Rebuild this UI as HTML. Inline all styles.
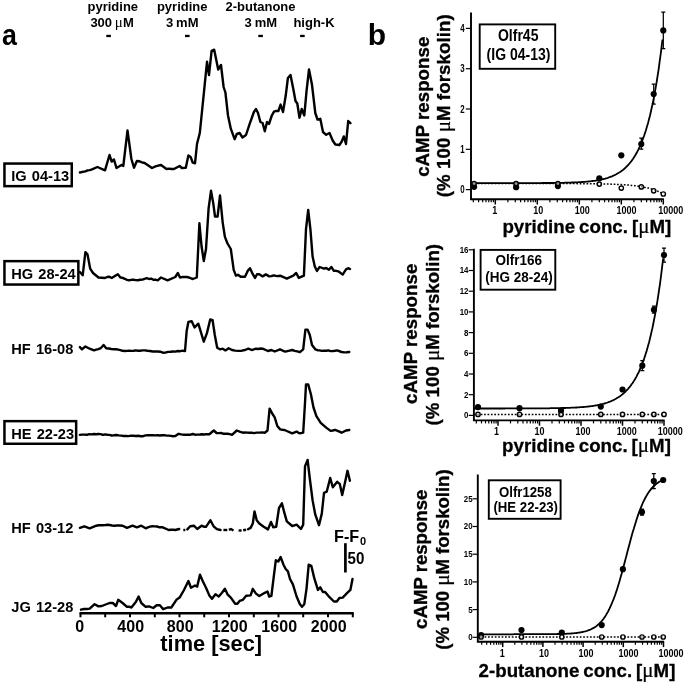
<!DOCTYPE html>
<html><head><meta charset="utf-8"><title>Figure</title>
<style>html,body{margin:0;padding:0;background:#fff}svg{display:block;filter:blur(0.4px)}text{font-family:"Liberation Sans",Arial,sans-serif;font-weight:bold;fill:#000}.mu{font-family:"Liberation Serif","DejaVu Serif",serif;font-weight:normal}</style></head><body>
<svg width="685" height="684" viewBox="0 0 685 684">
<rect width="685" height="684" fill="#fff"/>
<g id="panel-a">
<text transform="translate(1.9,45) scale(0.9,1)" font-size="29.8">a</text>
<text x="112.8" y="11" font-size="13" text-anchor="middle">pyridine</text>
<text x="90.4" y="27.4" font-size="13">300<tspan class="mu" font-size="15" dx="2.6">μ</tspan><tspan dx="0.3">M</tspan></text>
<text x="182.2" y="11" font-size="13" text-anchor="middle">pyridine</text>
<text x="182.2" y="27.4" font-size="13" text-anchor="middle" word-spacing="-0.6">3 mM</text>
<text x="260.5" y="11" font-size="13" text-anchor="middle">2-butanone</text>
<text x="260.8" y="27.4" font-size="13" text-anchor="middle" word-spacing="-0.6">3 mM</text>
<text x="314" y="27.4" font-size="13" text-anchor="middle">high-K</text>
<rect x="106.3" y="34.8" width="4.6" height="2.3" fill="#000"/>
<rect x="185.0" y="34.8" width="4.6" height="2.3" fill="#000"/>
<rect x="258.3" y="34.8" width="4.6" height="2.3" fill="#000"/>
<rect x="300.09999999999997" y="34.8" width="4.6" height="2.3" fill="#000"/>
<path d="M79.9,172.5 L82.7,171.8 L85.4,171.4 L87.6,170.4 L89.8,170.1 L92.0,169.3 L97.4,167.0 L105.0,170.3 L109.5,155.0 L111.7,161.6 L113.9,159.4 L116.5,168.0 L121.5,165.0 L123.3,166.0 L127.5,130.4 L131.4,159.0 L134.0,167.7 L136.9,161.0 L139.5,161.3 L142.0,162.4 L144.6,163.0 L152.0,168.0 L155.5,166.4 L158.2,165.6 L161.0,165.0 L166.5,169.0 L169.0,168.6 L171.5,169.0 L174.0,169.0 L179.6,166.0 L181.8,168.0 L185.8,167.7 L188.4,155.4 L190.6,157.0 L192.8,162.7 L195.0,163.3 L197.0,144.0 L199.8,133.0 L203.8,93.6 L207.0,61.8 L209.0,75.0 L211.6,50.8 L214.2,49.7 L218.2,69.5 L221.0,65.0 L223.6,87.0 L225.4,92.5 L228.0,115.5 L230.8,128.7 L234.6,139.2 L236.8,134.0 L239.6,133.0 L242.5,137.5 L246.0,135.0 L249.5,124.3 L253.9,112.0 L256.0,109.0 L258.0,113.0 L260.4,122.0 L262.6,123.0 L264.8,131.3 L267.0,122.0 L269.0,124.0 L271.8,115.5 L274.0,111.6 L276.2,110.9 L278.4,111.0 L280.6,104.6 L283.0,112.0 L285.7,95.8 L287.9,78.0 L290.5,75.0 L293.3,89.0 L295.5,101.0 L297.3,103.5 L299.5,117.7 L301.7,109.0 L304.3,115.5 L306.5,91.4 L309.0,69.5 L312.0,84.8 L315.3,113.0 L317.5,119.5 L320.3,118.8 L323.0,132.0 L326.2,134.8 L329.5,133.0 L332.8,140.7 L335.4,144.5 L339.4,145.0 L341.6,141.8 L343.8,136.4 L346.0,144.0 L348.2,121.0 L350.4,123.2" fill="none" stroke="#000" stroke-width="2.4" stroke-linejoin="round" stroke-linecap="round"/>
<path d="M79.9,272.0 L82.7,275.3 L85.4,252.2 L87.5,254.4 L90.2,268.7 L93.0,273.0 L98.5,277.5 L101.8,277.7 L105.0,278.0 L107.2,277.0 L109.5,276.8 L111.7,278.0 L117.8,274.2 L120.4,277.5 L122.6,277.8 L124.8,278.8 L127.0,279.9 L129.2,280.3 L131.4,279.8 L133.6,279.8 L135.8,280.1 L138.0,280.2 L140.2,279.8 L142.4,279.6 L144.6,278.8 L146.8,278.1 L149.0,279.0 L151.2,278.6 L153.3,279.7 L155.5,279.7 L157.7,280.3 L161.0,277.5 L167.6,280.3 L175.3,277.0 L177.9,273.0 L180.0,277.5 L183.1,276.9 L186.2,277.0 L188.4,277.3 L190.6,278.2 L192.8,279.0 L196.8,277.5 L199.4,223.3 L201.6,246.8 L203.8,261.0 L206.0,249.0 L208.6,208.4 L211.0,190.8 L213.2,202.9 L215.0,216.5 L217.6,216.5 L220.0,195.5 L222.7,222.6 L224.9,236.9 L227.5,243.5 L230.8,249.0 L233.7,269.8 L235.9,275.7 L238.0,274.8 L240.7,276.8 L245.0,276.8 L247.7,270.9 L250.0,268.2 L252.8,274.2 L255.0,277.9 L257.0,274.2 L259.3,274.2 L262.6,276.4 L265.9,274.4 L269.2,276.4 L271.4,276.1 L273.6,275.3 L276.9,276.1 L280.2,275.7 L286.8,278.6 L293.3,275.7 L296.2,273.0 L298.8,277.9 L303.9,275.7 L306.0,229.2 L308.2,210.0 L310.4,229.2 L312.6,256.6 L314.8,266.5 L317.0,270.9 L319.6,267.0 L324.0,268.7 L326.2,268.0 L328.9,269.8 L331.3,267.0 L333.9,270.9 L336.1,270.8 L338.3,271.3 L342.7,274.6 L346.0,269.3 L348.6,268.2 L350.0,269.0" fill="none" stroke="#000" stroke-width="2.4" stroke-linejoin="round" stroke-linecap="round"/>
<path d="M79.9,347.1 L82.0,349.3 L85.4,346.5 L89.7,348.7 L94.0,350.4 L96.2,349.7 L98.5,349.1 L100.7,348.2 L103.6,345.0 L106.2,348.2 L108.8,348.5 L111.3,349.0 L113.9,349.3 L116.1,349.2 L118.3,349.6 L120.4,350.1 L122.6,350.8 L124.8,351.0 L127.0,350.9 L129.2,350.7 L131.4,350.9 L133.6,350.7 L135.8,350.4 L138.0,350.8 L140.2,350.7 L142.4,350.4 L144.9,350.4 L147.5,350.8 L150.1,351.0 L152.6,351.5 L155.1,351.5 L157.7,351.5 L160.3,351.7 L162.8,352.7 L165.4,352.6 L167.9,351.9 L170.5,351.8 L173.0,351.5 L175.4,351.6 L177.8,351.0 L180.2,351.2 L182.6,350.7 L185.0,351.0 L186.7,330.7 L188.4,321.9 L191.7,321.3 L194.6,327.4 L198.3,323.7 L203.8,341.7 L207.0,332.9 L210.2,319.5 L212.6,320.2 L214.8,335.0 L217.2,347.8 L219.9,349.3 L222.7,348.7 L225.4,350.4 L228.6,348.2 L232.0,350.0 L235.2,350.6 L238.5,350.9 L241.8,350.7 L245.0,350.0 L248.4,348.7 L251.7,350.0 L253.8,349.4 L256.0,348.7 L258.2,349.0 L260.4,348.5 L262.6,348.7 L268.0,351.0 L271.4,350.0 L274.7,351.5 L280.0,349.3 L284.6,351.5 L287.1,351.2 L289.7,350.6 L292.2,350.0 L294.8,350.8 L297.3,351.4 L299.9,352.2 L303.2,349.3 L305.4,329.6 L307.6,329.6 L309.8,335.0 L312.0,345.0 L315.3,349.3 L317.5,350.2 L319.6,350.4 L321.8,350.9 L324.0,350.6 L326.2,350.8 L328.4,350.4 L330.6,351.1 L332.8,351.0 L335.0,350.8 L337.2,350.4 L341.6,352.0 L344.2,352.4 L346.7,352.3 L349.3,352.0" fill="none" stroke="#000" stroke-width="2.4" stroke-linejoin="round" stroke-linecap="round"/>
<path d="M79.9,434.9 L82.2,434.6 L84.6,434.6 L86.9,434.8 L89.3,434.1 L91.6,434.4 L94.0,434.0 L96.3,434.2 L98.5,434.0 L100.7,434.1 L102.9,434.9 L105.1,434.4 L107.3,434.7 L109.5,434.9 L111.7,435.5 L113.9,435.3 L116.3,435.0 L118.8,435.4 L121.2,435.6 L123.6,436.0 L126.1,436.0 L128.5,436.1 L130.9,435.6 L133.4,435.8 L135.8,436.0 L138.2,435.8 L140.7,436.2 L143.1,436.2 L145.5,435.4 L148.0,435.3 L150.4,435.3 L152.8,435.2 L155.3,435.4 L157.7,435.3 L159.9,435.5 L162.1,435.3 L164.3,435.1 L166.5,435.6 L168.7,435.6 L170.9,435.9 L173.1,436.3 L175.3,436.0 L178.6,433.8 L181.3,434.4 L184.0,434.7 L186.2,434.7 L188.4,434.7 L190.6,434.7 L192.8,434.0 L195.0,434.7 L197.2,434.6 L199.4,434.6 L201.6,434.2 L204.2,434.5 L206.7,434.1 L209.3,434.2 L213.8,430.5 L216.6,433.0 L218.8,433.1 L221.0,433.0 L223.2,433.7 L225.4,433.8 L227.6,433.8 L229.8,434.1 L232.0,434.9 L236.8,430.5 L239.6,431.6 L242.9,432.7 L245.1,432.5 L247.3,432.6 L249.5,432.8 L251.7,432.6 L253.9,433.1 L256.6,432.6 L259.4,432.6 L262.1,432.4 L264.8,432.7 L267.5,430.5 L269.6,408.6 L272.5,414.0 L274.7,417.3 L277.3,426.0 L280.2,429.4 L282.4,429.8 L284.6,430.0 L286.8,431.0 L292.2,433.3 L296.6,431.6 L298.8,433.1 L301.0,433.2 L303.2,432.7 L305.0,403.0 L306.0,384.4 L308.2,384.4 L310.9,394.3 L313.5,407.5 L316.4,416.2 L320.7,422.8 L326.2,427.6 L330.6,430.9 L332.8,430.5 L335.0,429.8 L338.3,431.1 L341.6,432.7 L346.0,430.5 L349.3,430.0" fill="none" stroke="#000" stroke-width="2.4" stroke-linejoin="round" stroke-linecap="round"/>
<path d="M79.9,527.9 L84.3,526.3 L89.7,528.3 L96.3,525.7 L98.5,525.3 L100.7,525.2 L102.9,525.2 L105.1,525.1 L107.3,524.8 L109.5,525.0 L112.1,525.5 L114.7,525.7 L117.4,525.4 L120.0,525.5 L122.6,525.7 L127.0,527.9 L132.5,525.7 L136.9,527.4 L141.3,525.7 L145.7,528.3 L147.9,527.3 L150.0,526.6 L152.2,526.3 L154.7,526.4 L157.1,526.5 L159.6,527.3 L162.1,527.2 L168.7,530.0 L170.9,529.7 L173.1,529.6 L175.3,530.0 L179.2,529.0" fill="none" stroke="#000" stroke-width="2.4" stroke-linejoin="round" stroke-linecap="round"/>
<path d="M187.3,529.4 L190.2,526.3 L193.9,525.7 L197.2,529.0 L201.6,525.7 L203.8,526.7 L206.0,526.8 L210.4,520.2 L213.6,526.3 L216.9,529.2 L220.5,530.0" fill="none" stroke="#000" stroke-width="2.4" stroke-linejoin="round" stroke-linecap="round"/>
<path d="M248.0,529.3 L250.6,527.9 L252.8,523.5 L254.5,511.4 L256.7,520.2 L259.3,523.5 L263.7,526.8 L268.0,529.4 L271.0,521.9 L273.2,527.2 L276.2,526.8 L279.0,508.0 L281.9,503.3 L284.6,513.6 L286.8,521.3 L292.2,526.0 L294.4,525.3 L296.6,524.6 L301.0,529.0 L303.2,524.6 L305.0,466.4 L307.6,459.9 L309.8,478.5 L312.6,500.4 L315.3,514.7 L319.0,525.2 L321.8,513.6 L324.0,492.8 L326.7,491.7 L330.2,478.0 L332.8,487.3 L337.2,481.8 L339.8,484.0 L342.2,495.0 L344.9,482.9 L347.5,470.8 L349.9,480.7" fill="none" stroke="#000" stroke-width="2.4" stroke-linejoin="round" stroke-linecap="round"/>
<path d="M81.0,609.7 L83.9,609.0 L86.8,609.0 L89.7,608.6 L94.6,604.2 L98.5,606.4 L101.8,606.0 L109.5,603.0 L112.8,603.0 L116.0,606.0 L118.2,599.8 L122.6,603.0 L127.0,606.8 L129.2,606.7 L131.4,607.5 L135.8,602.0 L138.6,596.5 L141.3,603.0 L145.7,606.8 L149.0,606.4 L153.3,608.0 L156.6,605.3 L159.9,605.3 L163.2,609.2 L167.6,607.5 L171.3,607.5 L176.4,599.8 L179.6,597.6 L184.0,590.0 L188.4,581.0 L191.0,587.7 L195.0,585.5 L197.2,586.6 L200.0,574.6 L202.7,581.0 L206.0,587.7 L209.3,595.4 L212.0,598.7 L215.5,594.3 L218.8,596.5 L222.0,592.8 L224.9,588.8 L227.5,594.3 L230.8,597.6 L235.2,603.7 L237.4,603.7 L239.6,600.9 L242.9,599.8 L246.2,595.8 L248.4,595.6 L250.6,595.4 L252.8,588.8 L256.0,593.6 L259.3,596.0 L264.8,592.8 L267.5,591.5 L269.2,596.5 L271.4,595.8 L273.6,577.9 L275.8,560.3 L278.4,561.4 L280.6,557.0 L283.5,564.7 L285.7,569.0 L287.9,571.3 L290.0,579.0 L292.9,584.4 L296.6,596.5 L299.9,604.2 L302.0,606.8 L304.3,604.2 L306.5,588.8 L308.7,564.7 L311.3,565.8 L314.2,577.9 L317.9,589.9 L320.3,587.3 L322.9,592.0 L325.1,592.0 L329.5,597.2 L333.9,601.5 L336.8,601.5 L339.4,598.0 L342.7,597.6 L347.0,593.2 L350.4,589.9 L352.5,579.0" fill="none" stroke="#000" stroke-width="2.4" stroke-linejoin="round" stroke-linecap="round"/>
<path d="M183.3,530.0 L185.3,530.0" fill="none" stroke="#000" stroke-width="2.4" stroke-linejoin="round" stroke-linecap="butt"/>
<path d="M223.4,530.0 L227.3,530.0" fill="none" stroke="#000" stroke-width="2.4" stroke-linejoin="round" stroke-linecap="butt"/>
<path d="M238.6,530.5 L241.6,530.5" fill="none" stroke="#000" stroke-width="2.4" stroke-linejoin="round" stroke-linecap="butt"/>
<path d="M228.9,529.8 L230.8,529.0 L233.5,530.5" fill="none" stroke="#000" stroke-width="2.4" stroke-linejoin="round" stroke-linecap="butt"/>
<path d="M243.2,530.2 L246.0,529.7" fill="none" stroke="#000" stroke-width="2.4" stroke-linejoin="round" stroke-linecap="butt"/>
<rect x="4.45" y="163.55" width="67.3" height="22.6" fill="none" stroke="#000" stroke-width="2.5"/>
<text transform="translate(11.3,181.3) scale(1,1.03)" font-size="14.65" word-spacing="1">IG 04-13</text>
<rect x="4.45" y="261.15" width="73.9" height="23.4" fill="none" stroke="#000" stroke-width="2.5"/>
<text transform="translate(11.3,279.4) scale(1,1.03)" font-size="14.65" word-spacing="1">HG 28-24</text>
<text transform="translate(11.3,354.0) scale(1,1.03)" font-size="14.65" word-spacing="1">HF 16-08</text>
<rect x="4.45" y="421.15" width="71.7" height="22.6" fill="none" stroke="#000" stroke-width="2.5"/>
<text transform="translate(11.3,439.4) scale(1,1.03)" font-size="14.65" word-spacing="1">HE 22-23</text>
<text transform="translate(11.3,532.6) scale(1,1.03)" font-size="14.65" word-spacing="1">HF 03-12</text>
<text transform="translate(11.3,612.4) scale(1,1.03)" font-size="14.65" word-spacing="1">JG 12-28</text>
<path d="M79.5,613.2 H353.7" stroke="#000" stroke-width="2.4" fill="none"/>
<path d="M80.5,613.2 V617.3" stroke="#000" stroke-width="2" fill="none"/>
<path d="M105.2,613.2 V617.3" stroke="#000" stroke-width="2" fill="none"/>
<path d="M130.0,613.2 V617.3" stroke="#000" stroke-width="2" fill="none"/>
<path d="M154.8,613.2 V617.3" stroke="#000" stroke-width="2" fill="none"/>
<path d="M179.5,613.2 V617.3" stroke="#000" stroke-width="2" fill="none"/>
<path d="M204.2,613.2 V617.3" stroke="#000" stroke-width="2" fill="none"/>
<path d="M229.0,613.2 V617.3" stroke="#000" stroke-width="2" fill="none"/>
<path d="M253.8,613.2 V617.3" stroke="#000" stroke-width="2" fill="none"/>
<path d="M278.5,613.2 V617.3" stroke="#000" stroke-width="2" fill="none"/>
<path d="M303.2,613.2 V617.3" stroke="#000" stroke-width="2" fill="none"/>
<path d="M328.0,613.2 V617.3" stroke="#000" stroke-width="2" fill="none"/>
<path d="M352.8,613.2 V617.3" stroke="#000" stroke-width="2" fill="none"/>
<text transform="translate(79.7,631.6) scale(0.95,1)" font-size="16.9" text-anchor="middle">0</text>
<text transform="translate(130.7,631.6) scale(0.95,1)" font-size="16.9" text-anchor="middle">400</text>
<text transform="translate(180.2,631.6) scale(0.95,1)" font-size="16.9" text-anchor="middle">800</text>
<text transform="translate(229.7,631.6) scale(0.95,1)" font-size="16.9" text-anchor="middle">1200</text>
<text transform="translate(279.2,631.6) scale(0.95,1)" font-size="16.9" text-anchor="middle">1600</text>
<text transform="translate(328.7,631.6) scale(0.95,1)" font-size="16.9" text-anchor="middle">2000</text>
<text x="211.2" y="651.4" font-size="21.8" text-anchor="middle">time [sec]</text>
<text x="334" y="541.9" font-size="16.2">F-F<tspan font-size="11" dy="3.5" dx="0.8">0</tspan></text>
<path d="M345.4,543.2 V572.5" stroke="#000" stroke-width="2.7" fill="none"/>
<text transform="translate(347.5,564.3) scale(0.95,1)" font-size="15.9">50</text>
</g>
<g id="panel-b">
<text x="367.7" y="45.1" font-size="30">b</text>
<path d="M471.0,12.4 V199.2 H663.9" stroke="#000" stroke-width="1.9" fill="none" stroke-linejoin="miter"/>
<path d="M465.8,189.6 H471.0" stroke="#000" stroke-width="1.2" fill="none"/>
<text transform="translate(464.7,193.1) scale(1,1.3)" font-size="7.9" text-anchor="end">0</text>
<path d="M465.8,149.3 H471.0" stroke="#000" stroke-width="1.2" fill="none"/>
<text transform="translate(464.7,152.8) scale(1,1.3)" font-size="7.9" text-anchor="end">1</text>
<path d="M465.8,109.0 H471.0" stroke="#000" stroke-width="1.2" fill="none"/>
<text transform="translate(464.7,112.5) scale(1,1.3)" font-size="7.9" text-anchor="end">2</text>
<path d="M465.8,68.7 H471.0" stroke="#000" stroke-width="1.2" fill="none"/>
<text transform="translate(464.7,72.2) scale(1,1.3)" font-size="7.9" text-anchor="end">3</text>
<path d="M465.8,28.4 H471.0" stroke="#000" stroke-width="1.2" fill="none"/>
<text transform="translate(464.7,31.9) scale(1,1.3)" font-size="7.9" text-anchor="end">4</text>
<path d="M473.3,199.2 V202.2" stroke="#000" stroke-width="1.2" fill="none"/>
<path d="M478.6,199.2 V202.2" stroke="#000" stroke-width="1.2" fill="none"/>
<path d="M482.7,199.2 V202.2" stroke="#000" stroke-width="1.2" fill="none"/>
<path d="M486.0,199.2 V202.2" stroke="#000" stroke-width="1.2" fill="none"/>
<path d="M488.8,199.2 V202.2" stroke="#000" stroke-width="1.2" fill="none"/>
<path d="M491.2,199.2 V202.2" stroke="#000" stroke-width="1.2" fill="none"/>
<path d="M493.4,199.2 V202.2" stroke="#000" stroke-width="1.2" fill="none"/>
<path d="M495.3,199.2 V204.5" stroke="#000" stroke-width="1.5" fill="none"/>
<path d="M507.9,199.2 V202.2" stroke="#000" stroke-width="1.2" fill="none"/>
<path d="M515.3,199.2 V202.2" stroke="#000" stroke-width="1.2" fill="none"/>
<path d="M520.6,199.2 V202.2" stroke="#000" stroke-width="1.2" fill="none"/>
<path d="M524.7,199.2 V202.2" stroke="#000" stroke-width="1.2" fill="none"/>
<path d="M528.0,199.2 V202.2" stroke="#000" stroke-width="1.2" fill="none"/>
<path d="M530.8,199.2 V202.2" stroke="#000" stroke-width="1.2" fill="none"/>
<path d="M533.2,199.2 V202.2" stroke="#000" stroke-width="1.2" fill="none"/>
<path d="M535.4,199.2 V202.2" stroke="#000" stroke-width="1.2" fill="none"/>
<path d="M537.3,199.2 V204.5" stroke="#000" stroke-width="1.5" fill="none"/>
<path d="M549.9,199.2 V202.2" stroke="#000" stroke-width="1.2" fill="none"/>
<path d="M557.3,199.2 V202.2" stroke="#000" stroke-width="1.2" fill="none"/>
<path d="M562.6,199.2 V202.2" stroke="#000" stroke-width="1.2" fill="none"/>
<path d="M566.7,199.2 V202.2" stroke="#000" stroke-width="1.2" fill="none"/>
<path d="M570.0,199.2 V202.2" stroke="#000" stroke-width="1.2" fill="none"/>
<path d="M572.8,199.2 V202.2" stroke="#000" stroke-width="1.2" fill="none"/>
<path d="M575.2,199.2 V202.2" stroke="#000" stroke-width="1.2" fill="none"/>
<path d="M577.4,199.2 V202.2" stroke="#000" stroke-width="1.2" fill="none"/>
<path d="M579.3,199.2 V204.5" stroke="#000" stroke-width="1.5" fill="none"/>
<path d="M591.9,199.2 V202.2" stroke="#000" stroke-width="1.2" fill="none"/>
<path d="M599.3,199.2 V202.2" stroke="#000" stroke-width="1.2" fill="none"/>
<path d="M604.6,199.2 V202.2" stroke="#000" stroke-width="1.2" fill="none"/>
<path d="M608.7,199.2 V202.2" stroke="#000" stroke-width="1.2" fill="none"/>
<path d="M612.0,199.2 V202.2" stroke="#000" stroke-width="1.2" fill="none"/>
<path d="M614.8,199.2 V202.2" stroke="#000" stroke-width="1.2" fill="none"/>
<path d="M617.2,199.2 V202.2" stroke="#000" stroke-width="1.2" fill="none"/>
<path d="M619.4,199.2 V202.2" stroke="#000" stroke-width="1.2" fill="none"/>
<path d="M621.3,199.2 V204.5" stroke="#000" stroke-width="1.5" fill="none"/>
<path d="M633.9,199.2 V202.2" stroke="#000" stroke-width="1.2" fill="none"/>
<path d="M641.3,199.2 V202.2" stroke="#000" stroke-width="1.2" fill="none"/>
<path d="M646.6,199.2 V202.2" stroke="#000" stroke-width="1.2" fill="none"/>
<path d="M650.7,199.2 V202.2" stroke="#000" stroke-width="1.2" fill="none"/>
<path d="M654.0,199.2 V202.2" stroke="#000" stroke-width="1.2" fill="none"/>
<path d="M656.8,199.2 V202.2" stroke="#000" stroke-width="1.2" fill="none"/>
<path d="M659.2,199.2 V202.2" stroke="#000" stroke-width="1.2" fill="none"/>
<path d="M661.4,199.2 V202.2" stroke="#000" stroke-width="1.2" fill="none"/>
<path d="M663.3,199.2 V204.5" stroke="#000" stroke-width="1.5" fill="none"/>
<text transform="translate(494.8,213.8) scale(1,1.12)" font-size="9" text-anchor="middle">1</text>
<text transform="translate(538.3,213.8) scale(1,1.12)" font-size="9" text-anchor="middle">10</text>
<text transform="translate(582.3,213.8) scale(1,1.12)" font-size="9" text-anchor="middle">100</text>
<text transform="translate(626.6,213.8) scale(1,1.12)" font-size="9" text-anchor="middle">1000</text>
<text transform="translate(670.8,213.8) scale(1,1.12)" font-size="9" text-anchor="middle">10000</text>
<rect x="479.7" y="24.4" width="75.5" height="44.4" fill="#fff" stroke="#000" stroke-width="1.9"/>
<text transform="translate(518.2,40.6) scale(1,1.2)" font-size="14" text-anchor="middle">Olfr45</text>
<text transform="translate(518.5,59.5) scale(1,1.2)" font-size="14" text-anchor="middle">(IG 04-13)</text>
<text transform="translate(428.5,176.8) rotate(-90)" font-size="18.7" textLength="140.1" stroke="#000" stroke-width="0.35">cAMP response</text>
<text transform="translate(450,197.3) rotate(-90)" font-size="18.7" textLength="183.0" stroke="#000" stroke-width="0.35">(% 100 <tspan class="mu" font-size="21" stroke-width="0.2">μ</tspan>M forskolin)</text>
<text x="586.8" y="232.7" font-size="18.7" text-anchor="middle" word-spacing="-1.2" stroke="#000" stroke-width="0.3">pyridine conc. [<tspan class="mu" font-size="21" stroke-width="0.2">μ</tspan>M]</text>
<path d="M470.9,183.2 L471.8,183.2 L472.6,183.2 L473.5,183.2 L474.3,183.2 L475.1,183.2 L476.0,183.2 L476.8,183.2 L477.7,183.1 L478.5,183.1 L479.3,183.1 L480.2,183.1 L481.0,183.1 L481.9,183.1 L482.7,183.1 L483.5,183.1 L484.4,183.1 L485.2,183.1 L486.1,183.1 L486.9,183.1 L487.7,183.1 L488.6,183.1 L489.4,183.1 L490.3,183.1 L491.1,183.1 L491.9,183.1 L492.8,183.1 L493.6,183.1 L494.5,183.1 L495.3,183.1 L496.1,183.1 L497.0,183.1 L497.8,183.1 L498.7,183.1 L499.5,183.1 L500.3,183.1 L501.2,183.1 L502.0,183.1 L502.9,183.1 L503.7,183.1 L504.5,183.1 L505.4,183.1 L506.2,183.1 L507.1,183.1 L507.9,183.1 L508.7,183.1 L509.6,183.1 L510.4,183.1 L511.3,183.1 L512.1,183.1 L512.9,183.1 L513.8,183.1 L514.6,183.1 L515.5,183.1 L516.3,183.1 L517.1,183.1 L518.0,183.1 L518.8,183.1 L519.7,183.1 L520.5,183.1 L521.3,183.1 L522.2,183.1 L523.0,183.1 L523.9,183.1 L524.7,183.1 L525.5,183.1 L526.4,183.1 L527.2,183.1 L528.1,183.1 L528.9,183.1 L529.7,183.1 L530.6,183.1 L531.4,183.1 L532.3,183.1 L533.1,183.1 L533.9,183.1 L534.8,183.1 L535.6,183.1 L536.5,183.1 L537.3,183.1 L538.1,183.1 L539.0,183.1 L539.8,183.1 L540.7,183.1 L541.5,183.1 L542.3,183.0 L543.2,183.0 L544.0,183.0 L544.9,183.0 L545.7,183.0 L546.5,183.0 L547.4,183.0 L548.2,183.0 L549.1,183.0 L549.9,183.0 L550.7,183.0 L551.6,183.0 L552.4,183.0 L553.3,183.0 L554.1,182.9 L554.9,182.9 L555.8,182.9 L556.6,182.9 L557.5,182.9 L558.3,182.9 L559.1,182.9 L560.0,182.9 L560.8,182.8 L561.7,182.8 L562.5,182.8 L563.3,182.8 L564.2,182.8 L565.0,182.7 L565.9,182.7 L566.7,182.7 L567.5,182.7 L568.4,182.7 L569.2,182.6 L570.1,182.6 L570.9,182.6 L571.7,182.5 L572.6,182.5 L573.4,182.5 L574.3,182.4 L575.1,182.4 L575.9,182.4 L576.8,182.3 L577.6,182.3 L578.5,182.2 L579.3,182.2 L580.1,182.1 L581.0,182.1 L581.8,182.0 L582.7,182.0 L583.5,181.9 L584.3,181.9 L585.2,181.8 L586.0,181.7 L586.9,181.6 L587.7,181.6 L588.5,181.5 L589.4,181.4 L590.2,181.3 L591.1,181.2 L591.9,181.1 L592.7,181.0 L593.6,180.9 L594.4,180.8 L595.3,180.7 L596.1,180.5 L596.9,180.4 L597.8,180.2 L598.6,180.1 L599.5,179.9 L600.3,179.8 L601.1,179.6 L602.0,179.4 L602.8,179.2 L603.7,179.0 L604.5,178.8 L605.3,178.6 L606.2,178.3 L607.0,178.1 L607.9,177.8 L608.7,177.5 L609.5,177.2 L610.4,176.9 L611.2,176.6 L612.1,176.3 L612.9,175.9 L613.7,175.5 L614.6,175.1 L615.4,174.7 L616.3,174.3 L617.1,173.8 L617.9,173.3 L618.8,172.8 L619.6,172.3 L620.5,171.7 L621.3,171.1 L622.1,170.5 L623.0,169.9 L623.8,169.2 L624.7,168.5 L625.5,167.7 L626.3,166.9 L627.2,166.0 L628.0,165.1 L628.9,164.2 L629.7,163.2 L630.5,162.2 L631.4,161.1 L632.2,160.0 L633.1,158.8 L633.9,157.5 L634.7,156.2 L635.6,154.7 L636.4,153.3 L637.3,151.7 L638.1,150.1 L638.9,148.4 L639.8,146.6 L640.6,144.7 L641.5,142.7 L642.3,140.6 L643.1,138.3 L644.0,136.0 L644.8,133.6 L645.7,131.0 L646.5,128.3 L647.3,125.4 L648.2,122.4 L649.0,119.3 L649.9,116.0 L650.7,112.5 L651.5,108.8 L652.4,104.9 L653.2,100.9 L654.1,96.6 L654.9,92.1 L655.7,87.4 L656.6,82.4 L657.4,77.1 L658.3,71.6 L659.1,65.8 L659.9,59.7 L660.8,53.3 L661.6,46.6 L662.5,39.5" fill="none" stroke="#000" stroke-width="1.8" stroke-linejoin="round"/>
<path d="M663.3,12.0 V48.5 M661.3,12.0 H665.3 M661.3,48.5 H665.3" stroke="#000" stroke-width="1.25" fill="none"/>
<path d="M653.7,84.0 V104.0 M651.7,84.0 H655.7 M651.7,104.0 H655.7" stroke="#000" stroke-width="1.25" fill="none"/>
<path d="M641.3,138.0 V149.0 M639.3,138.0 H643.3 M639.3,149.0 H643.3" stroke="#000" stroke-width="1.25" fill="none"/>
<circle cx="474.1" cy="186.8" r="3.1" fill="#000"/>
<circle cx="516.1" cy="187.2" r="3.1" fill="#000"/>
<circle cx="557.9" cy="186.1" r="3.1" fill="#000"/>
<circle cx="599.3" cy="178.3" r="3.1" fill="#000"/>
<circle cx="621.3" cy="155.3" r="3.1" fill="#000"/>
<circle cx="641.3" cy="144.1" r="3.1" fill="#000"/>
<circle cx="653.7" cy="94.1" r="3.1" fill="#000"/>
<circle cx="663.3" cy="30.4" r="3.1" fill="#000"/>
<path d="M470.9,183.6 L471.8,183.6 L472.6,183.6 L473.5,183.6 L474.3,183.6 L475.1,183.6 L476.0,183.6 L476.8,183.6 L477.7,183.6 L478.5,183.6 L479.3,183.6 L480.2,183.6 L481.0,183.6 L481.9,183.6 L482.7,183.6 L483.5,183.6 L484.4,183.6 L485.2,183.6 L486.1,183.6 L486.9,183.6 L487.7,183.6 L488.6,183.6 L489.4,183.6 L490.3,183.6 L491.1,183.6 L491.9,183.6 L492.8,183.6 L493.6,183.6 L494.5,183.6 L495.3,183.6 L496.1,183.6 L497.0,183.6 L497.8,183.6 L498.7,183.6 L499.5,183.6 L500.3,183.6 L501.2,183.6 L502.0,183.6 L502.9,183.6 L503.7,183.6 L504.5,183.6 L505.4,183.6 L506.2,183.6 L507.1,183.6 L507.9,183.6 L508.7,183.6 L509.6,183.6 L510.4,183.6 L511.3,183.6 L512.1,183.6 L512.9,183.6 L513.8,183.6 L514.6,183.6 L515.5,183.6 L516.3,183.6 L517.1,183.6 L518.0,183.6 L518.8,183.6 L519.7,183.6 L520.5,183.6 L521.3,183.6 L522.2,183.6 L523.0,183.6 L523.9,183.6 L524.7,183.6 L525.5,183.6 L526.4,183.6 L527.2,183.6 L528.1,183.6 L528.9,183.6 L529.7,183.6 L530.6,183.6 L531.4,183.6 L532.3,183.6 L533.1,183.6 L533.9,183.6 L534.8,183.6 L535.6,183.6 L536.5,183.6 L537.3,183.6 L538.1,183.6 L539.0,183.6 L539.8,183.6 L540.7,183.6 L541.5,183.6 L542.3,183.6 L543.2,183.6 L544.0,183.6 L544.9,183.6 L545.7,183.6 L546.5,183.6 L547.4,183.6 L548.2,183.6 L549.1,183.6 L549.9,183.6 L550.7,183.6 L551.6,183.6 L552.4,183.6 L553.3,183.6 L554.1,183.6 L554.9,183.6 L555.8,183.6 L556.6,183.6 L557.5,183.6 L558.3,183.6 L559.1,183.6 L560.0,183.6 L560.8,183.6 L561.7,183.6 L562.5,183.6 L563.3,183.6 L564.2,183.6 L565.0,183.6 L565.9,183.6 L566.7,183.6 L567.5,183.6 L568.4,183.6 L569.2,183.6 L570.1,183.6 L570.9,183.6 L571.7,183.6 L572.6,183.6 L573.4,183.6 L574.3,183.6 L575.1,183.6 L575.9,183.6 L576.8,183.6 L577.6,183.7 L578.5,183.7 L579.3,183.7 L580.1,183.7 L581.0,183.7 L581.8,183.7 L582.7,183.7 L583.5,183.7 L584.3,183.7 L585.2,183.7 L586.0,183.7 L586.9,183.7 L587.7,183.7 L588.5,183.7 L589.4,183.7 L590.2,183.7 L591.1,183.8 L591.9,183.8 L592.7,183.8 L593.6,183.8 L594.4,183.8 L595.3,183.8 L596.1,183.8 L596.9,183.8 L597.8,183.8 L598.6,183.9 L599.5,183.9 L600.3,183.9 L601.1,183.9 L602.0,183.9 L602.8,183.9 L603.7,184.0 L604.5,184.0 L605.3,184.0 L606.2,184.0 L607.0,184.0 L607.9,184.1 L608.7,184.1 L609.5,184.1 L610.4,184.1 L611.2,184.2 L612.1,184.2 L612.9,184.2 L613.7,184.2 L614.6,184.3 L615.4,184.3 L616.3,184.3 L617.1,184.4 L617.9,184.4 L618.8,184.5 L619.6,184.5 L620.5,184.6 L621.3,184.6 L622.1,184.7 L623.0,184.7 L623.8,184.8 L624.7,184.8 L625.5,184.9 L626.3,184.9 L627.2,185.0 L628.0,185.1 L628.9,185.1 L629.7,185.2 L630.5,185.3 L631.4,185.4 L632.2,185.5 L633.1,185.6 L633.9,185.6 L634.7,185.7 L635.6,185.8 L636.4,186.0 L637.3,186.1 L638.1,186.2 L638.9,186.3 L639.8,186.4 L640.6,186.6 L641.5,186.7 L642.3,186.9 L643.1,187.0 L644.0,187.2 L644.8,187.4 L645.7,187.5 L646.5,187.7 L647.3,187.9 L648.2,188.1 L649.0,188.3 L649.9,188.6 L650.7,188.8 L651.5,189.1 L652.4,189.3 L653.2,189.6 L654.1,189.9 L654.9,190.2 L655.7,190.5 L656.6,190.8 L657.4,191.1 L658.3,191.5 L659.1,191.9 L659.9,192.3 L660.8,192.7 L661.6,193.1 L662.5,193.6 L663.3,194.0" fill="none" stroke="#000" stroke-width="1.5" stroke-dasharray="1.7 1.7"/>
<circle cx="474.1" cy="183.6" r="2.15" fill="#fff" fill-opacity="0.6" stroke="#000" stroke-width="1.4"/>
<circle cx="516.1" cy="183.6" r="2.15" fill="#fff" fill-opacity="0.6" stroke="#000" stroke-width="1.4"/>
<circle cx="557.9" cy="183.6" r="2.15" fill="#fff" fill-opacity="0.6" stroke="#000" stroke-width="1.4"/>
<circle cx="599.3" cy="184.1" r="2.15" fill="#fff" fill-opacity="0.6" stroke="#000" stroke-width="1.4"/>
<circle cx="621.3" cy="188.1" r="2.15" fill="#fff" fill-opacity="0.6" stroke="#000" stroke-width="1.4"/>
<circle cx="641.3" cy="186.9" r="2.15" fill="#fff" fill-opacity="0.6" stroke="#000" stroke-width="1.4"/>
<circle cx="653.7" cy="190.8" r="2.15" fill="#fff" fill-opacity="0.6" stroke="#000" stroke-width="1.4"/>
<circle cx="663.3" cy="194.0" r="2.15" fill="#fff" fill-opacity="0.6" stroke="#000" stroke-width="1.4"/>
<path d="M473.9,248.7 V420.4 H664.6" stroke="#000" stroke-width="1.9" fill="none" stroke-linejoin="miter"/>
<path d="M468.7,415.4 H473.9" stroke="#000" stroke-width="1.2" fill="none"/>
<text transform="translate(468.5,418.3) scale(1,1.08)" font-size="7.9" text-anchor="end">0</text>
<path d="M468.7,394.7 H473.9" stroke="#000" stroke-width="1.2" fill="none"/>
<text transform="translate(468.5,397.6) scale(1,1.08)" font-size="7.9" text-anchor="end">2</text>
<path d="M468.7,374.0 H473.9" stroke="#000" stroke-width="1.2" fill="none"/>
<text transform="translate(468.5,376.9) scale(1,1.08)" font-size="7.9" text-anchor="end">4</text>
<path d="M468.7,353.3 H473.9" stroke="#000" stroke-width="1.2" fill="none"/>
<text transform="translate(468.5,356.2) scale(1,1.08)" font-size="7.9" text-anchor="end">6</text>
<path d="M468.7,332.6 H473.9" stroke="#000" stroke-width="1.2" fill="none"/>
<text transform="translate(468.5,335.5) scale(1,1.08)" font-size="7.9" text-anchor="end">8</text>
<path d="M468.7,311.9 H473.9" stroke="#000" stroke-width="1.2" fill="none"/>
<text transform="translate(468.5,314.8) scale(1,1.08)" font-size="7.9" text-anchor="end">10</text>
<path d="M468.7,291.2 H473.9" stroke="#000" stroke-width="1.2" fill="none"/>
<text transform="translate(468.5,294.1) scale(1,1.08)" font-size="7.9" text-anchor="end">12</text>
<path d="M468.7,270.5 H473.9" stroke="#000" stroke-width="1.2" fill="none"/>
<text transform="translate(468.5,273.4) scale(1,1.08)" font-size="7.9" text-anchor="end">14</text>
<path d="M468.7,249.8 H473.9" stroke="#000" stroke-width="1.2" fill="none"/>
<text transform="translate(468.5,252.7) scale(1,1.08)" font-size="7.9" text-anchor="end">16</text>
<path d="M476.3,420.4 V423.4" stroke="#000" stroke-width="1.2" fill="none"/>
<path d="M481.5,420.4 V423.4" stroke="#000" stroke-width="1.2" fill="none"/>
<path d="M485.5,420.4 V423.4" stroke="#000" stroke-width="1.2" fill="none"/>
<path d="M488.8,420.4 V423.4" stroke="#000" stroke-width="1.2" fill="none"/>
<path d="M491.6,420.4 V423.4" stroke="#000" stroke-width="1.2" fill="none"/>
<path d="M494.0,420.4 V423.4" stroke="#000" stroke-width="1.2" fill="none"/>
<path d="M496.1,420.4 V423.4" stroke="#000" stroke-width="1.2" fill="none"/>
<path d="M498.0,420.4 V425.7" stroke="#000" stroke-width="1.5" fill="none"/>
<path d="M510.5,420.4 V423.4" stroke="#000" stroke-width="1.2" fill="none"/>
<path d="M517.8,420.4 V423.4" stroke="#000" stroke-width="1.2" fill="none"/>
<path d="M523.0,420.4 V423.4" stroke="#000" stroke-width="1.2" fill="none"/>
<path d="M527.0,420.4 V423.4" stroke="#000" stroke-width="1.2" fill="none"/>
<path d="M530.3,420.4 V423.4" stroke="#000" stroke-width="1.2" fill="none"/>
<path d="M533.1,420.4 V423.4" stroke="#000" stroke-width="1.2" fill="none"/>
<path d="M535.5,420.4 V423.4" stroke="#000" stroke-width="1.2" fill="none"/>
<path d="M537.6,420.4 V423.4" stroke="#000" stroke-width="1.2" fill="none"/>
<path d="M539.5,420.4 V425.7" stroke="#000" stroke-width="1.5" fill="none"/>
<path d="M552.0,420.4 V423.4" stroke="#000" stroke-width="1.2" fill="none"/>
<path d="M559.3,420.4 V423.4" stroke="#000" stroke-width="1.2" fill="none"/>
<path d="M564.5,420.4 V423.4" stroke="#000" stroke-width="1.2" fill="none"/>
<path d="M568.5,420.4 V423.4" stroke="#000" stroke-width="1.2" fill="none"/>
<path d="M571.8,420.4 V423.4" stroke="#000" stroke-width="1.2" fill="none"/>
<path d="M574.6,420.4 V423.4" stroke="#000" stroke-width="1.2" fill="none"/>
<path d="M577.0,420.4 V423.4" stroke="#000" stroke-width="1.2" fill="none"/>
<path d="M579.1,420.4 V423.4" stroke="#000" stroke-width="1.2" fill="none"/>
<path d="M581.0,420.4 V425.7" stroke="#000" stroke-width="1.5" fill="none"/>
<path d="M593.5,420.4 V423.4" stroke="#000" stroke-width="1.2" fill="none"/>
<path d="M600.8,420.4 V423.4" stroke="#000" stroke-width="1.2" fill="none"/>
<path d="M606.0,420.4 V423.4" stroke="#000" stroke-width="1.2" fill="none"/>
<path d="M610.0,420.4 V423.4" stroke="#000" stroke-width="1.2" fill="none"/>
<path d="M613.3,420.4 V423.4" stroke="#000" stroke-width="1.2" fill="none"/>
<path d="M616.1,420.4 V423.4" stroke="#000" stroke-width="1.2" fill="none"/>
<path d="M618.5,420.4 V423.4" stroke="#000" stroke-width="1.2" fill="none"/>
<path d="M620.6,420.4 V423.4" stroke="#000" stroke-width="1.2" fill="none"/>
<path d="M622.5,420.4 V425.7" stroke="#000" stroke-width="1.5" fill="none"/>
<path d="M635.0,420.4 V423.4" stroke="#000" stroke-width="1.2" fill="none"/>
<path d="M642.3,420.4 V423.4" stroke="#000" stroke-width="1.2" fill="none"/>
<path d="M647.5,420.4 V423.4" stroke="#000" stroke-width="1.2" fill="none"/>
<path d="M651.5,420.4 V423.4" stroke="#000" stroke-width="1.2" fill="none"/>
<path d="M654.8,420.4 V423.4" stroke="#000" stroke-width="1.2" fill="none"/>
<path d="M657.6,420.4 V423.4" stroke="#000" stroke-width="1.2" fill="none"/>
<path d="M660.0,420.4 V423.4" stroke="#000" stroke-width="1.2" fill="none"/>
<path d="M662.1,420.4 V423.4" stroke="#000" stroke-width="1.2" fill="none"/>
<path d="M664.0,420.4 V425.7" stroke="#000" stroke-width="1.5" fill="none"/>
<text transform="translate(496.5,435) scale(1,1.12)" font-size="9" text-anchor="middle">1</text>
<text transform="translate(539.5,435) scale(1,1.12)" font-size="9" text-anchor="middle">10</text>
<text transform="translate(583.0,435) scale(1,1.12)" font-size="9" text-anchor="middle">100</text>
<text transform="translate(626.8,435) scale(1,1.12)" font-size="9" text-anchor="middle">1000</text>
<text transform="translate(670.3,435) scale(1,1.12)" font-size="9" text-anchor="middle">10000</text>
<rect x="480.6" y="249.9" width="74.7" height="39.8" fill="#fff" stroke="#000" stroke-width="1.9"/>
<text transform="translate(518.7,264.5) scale(1,1.05)" font-size="13.5" text-anchor="middle">Olfr166</text>
<text transform="translate(519.0,282.0) scale(1,1.05)" font-size="13.5" text-anchor="middle">(HG 28-24)</text>
<text transform="translate(417.0,403.9) rotate(-90)" font-size="18.7" textLength="140.2" stroke="#000" stroke-width="0.35">cAMP response</text>
<text transform="translate(438.7,425.4) rotate(-90)" font-size="18.7" textLength="181.5" stroke="#000" stroke-width="0.35">(% 100 <tspan class="mu" font-size="21" stroke-width="0.2">μ</tspan>M forskolin)</text>
<text x="586.5" y="452.3" font-size="18.7" text-anchor="middle" word-spacing="-1.2" stroke="#000" stroke-width="0.3">pyridine conc. [<tspan class="mu" font-size="21" stroke-width="0.2">μ</tspan>M]</text>
<path d="M473.9,408.5 L474.8,408.5 L475.6,408.5 L476.4,408.5 L477.2,408.5 L478.1,408.5 L478.9,408.5 L479.7,408.5 L480.6,408.5 L481.4,408.5 L482.2,408.5 L483.1,408.5 L483.9,408.5 L484.7,408.5 L485.6,408.5 L486.4,408.5 L487.2,408.5 L488.0,408.5 L488.9,408.5 L489.7,408.5 L490.5,408.5 L491.4,408.5 L492.2,408.5 L493.0,408.5 L493.9,408.5 L494.7,408.5 L495.5,408.5 L496.3,408.5 L497.2,408.5 L498.0,408.5 L498.8,408.5 L499.7,408.5 L500.5,408.5 L501.3,408.5 L502.1,408.5 L503.0,408.5 L503.8,408.5 L504.6,408.5 L505.5,408.4 L506.3,408.4 L507.1,408.4 L508.0,408.4 L508.8,408.4 L509.6,408.4 L510.4,408.4 L511.3,408.4 L512.1,408.4 L512.9,408.4 L513.8,408.4 L514.6,408.4 L515.4,408.4 L516.3,408.4 L517.1,408.4 L517.9,408.4 L518.8,408.4 L519.6,408.4 L520.4,408.4 L521.2,408.4 L522.1,408.4 L522.9,408.4 L523.7,408.4 L524.6,408.4 L525.4,408.4 L526.2,408.4 L527.0,408.4 L527.9,408.4 L528.7,408.4 L529.5,408.4 L530.4,408.4 L531.2,408.4 L532.0,408.4 L532.9,408.4 L533.7,408.4 L534.5,408.4 L535.4,408.4 L536.2,408.4 L537.0,408.4 L537.8,408.4 L538.7,408.4 L539.5,408.4 L540.3,408.3 L541.2,408.3 L542.0,408.3 L542.8,408.3 L543.6,408.3 L544.5,408.3 L545.3,408.3 L546.1,408.3 L547.0,408.3 L547.8,408.3 L548.6,408.3 L549.5,408.3 L550.3,408.2 L551.1,408.2 L552.0,408.2 L552.8,408.2 L553.6,408.2 L554.4,408.2 L555.3,408.2 L556.1,408.2 L556.9,408.1 L557.8,408.1 L558.6,408.1 L559.4,408.1 L560.2,408.1 L561.1,408.1 L561.9,408.0 L562.7,408.0 L563.6,408.0 L564.4,408.0 L565.2,408.0 L566.1,407.9 L566.9,407.9 L567.7,407.9 L568.5,407.8 L569.4,407.8 L570.2,407.8 L571.0,407.7 L571.9,407.7 L572.7,407.7 L573.5,407.6 L574.4,407.6 L575.2,407.6 L576.0,407.5 L576.9,407.5 L577.7,407.4 L578.5,407.4 L579.3,407.3 L580.2,407.2 L581.0,407.2 L581.8,407.1 L582.7,407.1 L583.5,407.0 L584.3,406.9 L585.1,406.8 L586.0,406.8 L586.8,406.7 L587.6,406.6 L588.5,406.5 L589.3,406.4 L590.1,406.3 L591.0,406.2 L591.8,406.1 L592.6,406.0 L593.5,405.8 L594.3,405.7 L595.1,405.6 L595.9,405.4 L596.8,405.3 L597.6,405.1 L598.4,404.9 L599.3,404.8 L600.1,404.6 L600.9,404.4 L601.8,404.2 L602.6,404.0 L603.4,403.8 L604.2,403.5 L605.1,403.3 L605.9,403.0 L606.7,402.8 L607.6,402.5 L608.4,402.2 L609.2,401.9 L610.0,401.6 L610.9,401.2 L611.7,400.9 L612.5,400.5 L613.4,400.1 L614.2,399.7 L615.0,399.3 L615.9,398.8 L616.7,398.3 L617.5,397.8 L618.4,397.3 L619.2,396.7 L620.0,396.2 L620.8,395.6 L621.7,394.9 L622.5,394.3 L623.3,393.6 L624.2,392.8 L625.0,392.1 L625.8,391.2 L626.6,390.4 L627.5,389.5 L628.3,388.6 L629.1,387.6 L630.0,386.6 L630.8,385.5 L631.6,384.3 L632.5,383.2 L633.3,381.9 L634.1,380.6 L635.0,379.2 L635.8,377.8 L636.6,376.3 L637.4,374.7 L638.3,373.0 L639.1,371.3 L639.9,369.4 L640.8,367.5 L641.6,365.5 L642.4,363.4 L643.2,361.1 L644.1,358.8 L644.9,356.4 L645.7,353.8 L646.6,351.1 L647.4,348.3 L648.2,345.3 L649.1,342.2 L649.9,338.9 L650.7,335.5 L651.5,331.9 L652.4,328.1 L653.2,324.2 L654.0,320.0 L654.9,315.6 L655.7,311.1 L656.5,306.3 L657.4,301.2 L658.2,295.9 L659.0,290.4 L659.9,284.6 L660.7,278.5 L661.5,272.1 L662.3,265.3 L663.2,258.3" fill="none" stroke="#000" stroke-width="1.8" stroke-linejoin="round"/>
<path d="M664.0,248.0 V262.0 M662.0,248.0 H666.0 M662.0,262.0 H666.0" stroke="#000" stroke-width="1.25" fill="none"/>
<path d="M642.3,360.5 V370.5 M640.3,360.5 H644.3 M640.3,370.5 H644.3" stroke="#000" stroke-width="1.25" fill="none"/>
<path d="M653.9,306.0 V313.0 M651.9,306.0 H655.9 M651.9,313.0 H655.9" stroke="#000" stroke-width="1.25" fill="none"/>
<circle cx="478.0" cy="407.1" r="3.1" fill="#000"/>
<circle cx="519.5" cy="408.2" r="3.1" fill="#000"/>
<circle cx="561.0" cy="410.7" r="3.1" fill="#000"/>
<circle cx="600.8" cy="406.6" r="3.1" fill="#000"/>
<circle cx="622.5" cy="389.5" r="3.1" fill="#000"/>
<circle cx="642.3" cy="365.7" r="3.1" fill="#000"/>
<circle cx="653.9" cy="309.8" r="3.1" fill="#000"/>
<circle cx="664.0" cy="255.0" r="3.1" fill="#000"/>
<path d="M473.9,414.4 L664.0,414.4" fill="none" stroke="#000" stroke-width="1.5" stroke-dasharray="1.7 1.7"/>
<circle cx="478.0" cy="414.4" r="2.15" fill="#fff" fill-opacity="0.6" stroke="#000" stroke-width="1.4"/>
<circle cx="519.5" cy="414.4" r="2.15" fill="#fff" fill-opacity="0.6" stroke="#000" stroke-width="1.4"/>
<circle cx="561.0" cy="414.4" r="2.15" fill="#fff" fill-opacity="0.6" stroke="#000" stroke-width="1.4"/>
<circle cx="600.8" cy="414.4" r="2.15" fill="#fff" fill-opacity="0.6" stroke="#000" stroke-width="1.4"/>
<circle cx="622.5" cy="414.4" r="2.15" fill="#fff" fill-opacity="0.6" stroke="#000" stroke-width="1.4"/>
<circle cx="642.3" cy="414.4" r="2.15" fill="#fff" fill-opacity="0.6" stroke="#000" stroke-width="1.4"/>
<circle cx="653.9" cy="414.4" r="2.15" fill="#fff" fill-opacity="0.6" stroke="#000" stroke-width="1.4"/>
<circle cx="664.0" cy="414.4" r="2.15" fill="#fff" fill-opacity="0.6" stroke="#000" stroke-width="1.4"/>
<path d="M477.8,474.4 V641.8 H664.1" stroke="#000" stroke-width="1.9" fill="none" stroke-linejoin="miter"/>
<path d="M472.6,637.3 H477.8" stroke="#000" stroke-width="1.2" fill="none"/>
<text transform="translate(472.6,640.2) scale(1,1.08)" font-size="7.9" text-anchor="end">0</text>
<path d="M472.6,609.6 H477.8" stroke="#000" stroke-width="1.2" fill="none"/>
<text transform="translate(472.6,612.5) scale(1,1.08)" font-size="7.9" text-anchor="end">5</text>
<path d="M472.6,581.9 H477.8" stroke="#000" stroke-width="1.2" fill="none"/>
<text transform="translate(472.6,584.8) scale(1,1.08)" font-size="7.9" text-anchor="end">10</text>
<path d="M472.6,554.2 H477.8" stroke="#000" stroke-width="1.2" fill="none"/>
<text transform="translate(472.6,557.1) scale(1,1.08)" font-size="7.9" text-anchor="end">15</text>
<path d="M472.6,526.5 H477.8" stroke="#000" stroke-width="1.2" fill="none"/>
<text transform="translate(472.6,529.4) scale(1,1.08)" font-size="7.9" text-anchor="end">20</text>
<path d="M472.6,498.8 H477.8" stroke="#000" stroke-width="1.2" fill="none"/>
<text transform="translate(472.6,501.7) scale(1,1.08)" font-size="7.9" text-anchor="end">25</text>
<path d="M481.7,641.8 V644.8" stroke="#000" stroke-width="1.2" fill="none"/>
<path d="M486.7,641.8 V644.8" stroke="#000" stroke-width="1.2" fill="none"/>
<path d="M490.6,641.8 V644.8" stroke="#000" stroke-width="1.2" fill="none"/>
<path d="M493.8,641.8 V644.8" stroke="#000" stroke-width="1.2" fill="none"/>
<path d="M496.5,641.8 V644.8" stroke="#000" stroke-width="1.2" fill="none"/>
<path d="M498.8,641.8 V644.8" stroke="#000" stroke-width="1.2" fill="none"/>
<path d="M500.9,641.8 V644.8" stroke="#000" stroke-width="1.2" fill="none"/>
<path d="M502.7,641.8 V647.0999999999999" stroke="#000" stroke-width="1.5" fill="none"/>
<path d="M514.8,641.8 V644.8" stroke="#000" stroke-width="1.2" fill="none"/>
<path d="M521.9,641.8 V644.8" stroke="#000" stroke-width="1.2" fill="none"/>
<path d="M526.9,641.8 V644.8" stroke="#000" stroke-width="1.2" fill="none"/>
<path d="M530.8,641.8 V644.8" stroke="#000" stroke-width="1.2" fill="none"/>
<path d="M534.0,641.8 V644.8" stroke="#000" stroke-width="1.2" fill="none"/>
<path d="M536.7,641.8 V644.8" stroke="#000" stroke-width="1.2" fill="none"/>
<path d="M539.0,641.8 V644.8" stroke="#000" stroke-width="1.2" fill="none"/>
<path d="M541.1,641.8 V644.8" stroke="#000" stroke-width="1.2" fill="none"/>
<path d="M542.9,641.8 V647.0999999999999" stroke="#000" stroke-width="1.5" fill="none"/>
<path d="M555.0,641.8 V644.8" stroke="#000" stroke-width="1.2" fill="none"/>
<path d="M562.1,641.8 V644.8" stroke="#000" stroke-width="1.2" fill="none"/>
<path d="M567.1,641.8 V644.8" stroke="#000" stroke-width="1.2" fill="none"/>
<path d="M571.0,641.8 V644.8" stroke="#000" stroke-width="1.2" fill="none"/>
<path d="M574.2,641.8 V644.8" stroke="#000" stroke-width="1.2" fill="none"/>
<path d="M576.9,641.8 V644.8" stroke="#000" stroke-width="1.2" fill="none"/>
<path d="M579.2,641.8 V644.8" stroke="#000" stroke-width="1.2" fill="none"/>
<path d="M581.3,641.8 V644.8" stroke="#000" stroke-width="1.2" fill="none"/>
<path d="M583.1,641.8 V647.0999999999999" stroke="#000" stroke-width="1.5" fill="none"/>
<path d="M595.2,641.8 V644.8" stroke="#000" stroke-width="1.2" fill="none"/>
<path d="M602.3,641.8 V644.8" stroke="#000" stroke-width="1.2" fill="none"/>
<path d="M607.3,641.8 V644.8" stroke="#000" stroke-width="1.2" fill="none"/>
<path d="M611.2,641.8 V644.8" stroke="#000" stroke-width="1.2" fill="none"/>
<path d="M614.4,641.8 V644.8" stroke="#000" stroke-width="1.2" fill="none"/>
<path d="M617.1,641.8 V644.8" stroke="#000" stroke-width="1.2" fill="none"/>
<path d="M619.4,641.8 V644.8" stroke="#000" stroke-width="1.2" fill="none"/>
<path d="M621.5,641.8 V644.8" stroke="#000" stroke-width="1.2" fill="none"/>
<path d="M623.3,641.8 V647.0999999999999" stroke="#000" stroke-width="1.5" fill="none"/>
<path d="M635.4,641.8 V644.8" stroke="#000" stroke-width="1.2" fill="none"/>
<path d="M642.5,641.8 V644.8" stroke="#000" stroke-width="1.2" fill="none"/>
<path d="M647.5,641.8 V644.8" stroke="#000" stroke-width="1.2" fill="none"/>
<path d="M651.4,641.8 V644.8" stroke="#000" stroke-width="1.2" fill="none"/>
<path d="M654.6,641.8 V644.8" stroke="#000" stroke-width="1.2" fill="none"/>
<path d="M657.3,641.8 V644.8" stroke="#000" stroke-width="1.2" fill="none"/>
<path d="M659.6,641.8 V644.8" stroke="#000" stroke-width="1.2" fill="none"/>
<path d="M661.7,641.8 V644.8" stroke="#000" stroke-width="1.2" fill="none"/>
<path d="M663.5,641.8 V647.0999999999999" stroke="#000" stroke-width="1.5" fill="none"/>
<text transform="translate(502.2,656.5) scale(1,1.12)" font-size="9" text-anchor="middle">1</text>
<text transform="translate(543.9,656.5) scale(1,1.12)" font-size="9" text-anchor="middle">10</text>
<text transform="translate(586.1,656.5) scale(1,1.12)" font-size="9" text-anchor="middle">100</text>
<text transform="translate(628.6,656.5) scale(1,1.12)" font-size="9" text-anchor="middle">1000</text>
<text transform="translate(671.0,656.5) scale(1,1.12)" font-size="9" text-anchor="middle">10000</text>
<rect x="488.8" y="480.3" width="71.8" height="38.5" fill="#fff" stroke="#000" stroke-width="1.9"/>
<text transform="translate(525.4,496.5) scale(1,1.12)" font-size="13.2" text-anchor="middle">Olfr1258</text>
<text transform="translate(525.7,512.3) scale(1,1.12)" font-size="13.2" text-anchor="middle">(HE 22-23)</text>
<text transform="translate(427.0,628.9) rotate(-90)" font-size="18.7" textLength="139.4" stroke="#000" stroke-width="0.35">cAMP response</text>
<text transform="translate(448.5,649.7) rotate(-90)" font-size="18.7" textLength="180.4" stroke="#000" stroke-width="0.35">(% 100 <tspan class="mu" font-size="21" stroke-width="0.2">μ</tspan>M forskolin)</text>
<text x="577" y="677.3" font-size="18.7" text-anchor="middle" word-spacing="-1.2" stroke="#000" stroke-width="0.3">2-butanone conc. [<tspan class="mu" font-size="21" stroke-width="0.2">μ</tspan>M]</text>
<path d="M478.6,634.3 L479.4,634.3 L480.2,634.3 L481.0,634.3 L481.8,634.3 L482.6,634.3 L483.4,634.3 L484.2,634.3 L485.0,634.3 L485.8,634.3 L486.6,634.3 L487.4,634.3 L488.2,634.3 L489.0,634.3 L489.8,634.3 L490.6,634.3 L491.4,634.3 L492.2,634.3 L493.1,634.3 L493.9,634.3 L494.7,634.3 L495.5,634.3 L496.3,634.3 L497.1,634.3 L497.9,634.3 L498.7,634.3 L499.5,634.3 L500.3,634.3 L501.1,634.3 L501.9,634.3 L502.7,634.3 L503.5,634.3 L504.3,634.3 L505.1,634.3 L505.9,634.3 L506.7,634.3 L507.5,634.3 L508.3,634.3 L509.1,634.3 L509.9,634.3 L510.7,634.3 L511.5,634.3 L512.3,634.3 L513.2,634.3 L514.0,634.2 L514.8,634.2 L515.6,634.2 L516.4,634.2 L517.2,634.2 L518.0,634.2 L518.8,634.2 L519.6,634.2 L520.4,634.2 L521.2,634.2 L522.0,634.2 L522.8,634.2 L523.6,634.2 L524.4,634.2 L525.2,634.2 L526.0,634.2 L526.8,634.2 L527.6,634.2 L528.4,634.2 L529.2,634.2 L530.0,634.2 L530.8,634.2 L531.6,634.2 L532.4,634.2 L533.3,634.2 L534.1,634.2 L534.9,634.2 L535.7,634.2 L536.5,634.2 L537.3,634.2 L538.1,634.2 L538.9,634.2 L539.7,634.2 L540.5,634.2 L541.3,634.2 L542.1,634.2 L542.9,634.2 L543.7,634.2 L544.5,634.2 L545.3,634.2 L546.1,634.2 L546.9,634.2 L547.7,634.2 L548.5,634.2 L549.3,634.2 L550.1,634.2 L550.9,634.1 L551.7,634.1 L552.5,634.1 L553.4,634.1 L554.2,634.1 L555.0,634.1 L555.8,634.1 L556.6,634.1 L557.4,634.0 L558.2,634.0 L559.0,634.0 L559.8,634.0 L560.6,634.0 L561.4,634.0 L562.2,633.9 L563.0,633.9 L563.8,633.9 L564.6,633.8 L565.4,633.8 L566.2,633.8 L567.0,633.7 L567.8,633.7 L568.6,633.7 L569.4,633.6 L570.2,633.6 L571.0,633.5 L571.8,633.4 L572.6,633.4 L573.5,633.3 L574.3,633.2 L575.1,633.1 L575.9,633.1 L576.7,633.0 L577.5,632.9 L578.3,632.7 L579.1,632.6 L579.9,632.5 L580.7,632.4 L581.5,632.2 L582.3,632.0 L583.1,631.9 L583.9,631.7 L584.7,631.5 L585.5,631.3 L586.3,631.0 L587.1,630.8 L587.9,630.5 L588.7,630.2 L589.5,629.9 L590.3,629.6 L591.1,629.2 L591.9,628.8 L592.7,628.4 L593.6,627.9 L594.4,627.4 L595.2,626.9 L596.0,626.4 L596.8,625.8 L597.6,625.1 L598.4,624.4 L599.2,623.7 L600.0,622.9 L600.8,622.1 L601.6,621.2 L602.4,620.2 L603.2,619.2 L604.0,618.1 L604.8,616.9 L605.6,615.7 L606.4,614.4 L607.2,613.0 L608.0,611.6 L608.8,610.0 L609.6,608.4 L610.4,606.7 L611.2,604.9 L612.0,603.0 L612.8,601.0 L613.7,598.9 L614.5,596.7 L615.3,594.5 L616.1,592.1 L616.9,589.7 L617.7,587.2 L618.5,584.6 L619.3,581.9 L620.1,579.1 L620.9,576.3 L621.7,573.5 L622.5,570.5 L623.3,567.6 L624.1,564.5 L624.9,561.5 L625.7,558.4 L626.5,555.4 L627.3,552.3 L628.1,549.2 L628.9,546.2 L629.7,543.2 L630.5,540.2 L631.3,537.2 L632.1,534.3 L632.9,531.5 L633.8,528.7 L634.6,526.0 L635.4,523.4 L636.2,520.8 L637.0,518.3 L637.8,515.9 L638.6,513.6 L639.4,511.4 L640.2,509.3 L641.0,507.3 L641.8,505.3 L642.6,503.5 L643.4,501.7 L644.2,500.1 L645.0,498.5 L645.8,497.0 L646.6,495.6 L647.4,494.2 L648.2,493.0 L649.0,491.8 L649.8,490.7 L650.6,489.6 L651.4,488.6 L652.2,487.7 L653.0,486.8 L653.9,486.0 L654.7,485.3 L655.5,484.5 L656.3,483.9 L657.1,483.3 L657.9,482.7 L658.7,482.1 L659.5,481.6 L660.3,481.2 L661.1,480.7 L661.9,480.3" fill="none" stroke="#000" stroke-width="1.8" stroke-linejoin="round"/>
<path d="M653.8,473.6 V488.5 M651.8,473.6 H655.8 M651.8,488.5 H655.8" stroke="#000" stroke-width="1.25" fill="none"/>
<path d="M642.0,509.0 V515.0 M640.0,509.0 H644.0 M640.0,515.0 H644.0" stroke="#000" stroke-width="1.25" fill="none"/>
<circle cx="481.1" cy="635.1" r="3.1" fill="#000"/>
<circle cx="521.5" cy="630.1" r="3.1" fill="#000"/>
<circle cx="561.8" cy="632.6" r="3.1" fill="#000"/>
<circle cx="601.7" cy="625.1" r="3.1" fill="#000"/>
<circle cx="622.9" cy="569.2" r="3.1" fill="#000"/>
<circle cx="642.0" cy="512.1" r="3.1" fill="#000"/>
<circle cx="653.8" cy="481.1" r="3.1" fill="#000"/>
<circle cx="663.2" cy="480.0" r="3.1" fill="#000"/>
<path d="M477.8,637.0 L663.5,637.0" fill="none" stroke="#000" stroke-width="1.5" stroke-dasharray="1.7 1.7"/>
<circle cx="481.1" cy="637.0" r="2.15" fill="#fff" fill-opacity="0.6" stroke="#000" stroke-width="1.4"/>
<circle cx="521.5" cy="637.0" r="2.15" fill="#fff" fill-opacity="0.6" stroke="#000" stroke-width="1.4"/>
<circle cx="561.8" cy="637.0" r="2.15" fill="#fff" fill-opacity="0.6" stroke="#000" stroke-width="1.4"/>
<circle cx="601.7" cy="637.0" r="2.15" fill="#fff" fill-opacity="0.6" stroke="#000" stroke-width="1.4"/>
<circle cx="622.9" cy="637.0" r="2.15" fill="#fff" fill-opacity="0.6" stroke="#000" stroke-width="1.4"/>
<circle cx="642.0" cy="637.0" r="2.15" fill="#fff" fill-opacity="0.6" stroke="#000" stroke-width="1.4"/>
<circle cx="653.8" cy="637.0" r="2.15" fill="#fff" fill-opacity="0.6" stroke="#000" stroke-width="1.4"/>
<circle cx="663.2" cy="637.0" r="2.15" fill="#fff" fill-opacity="0.6" stroke="#000" stroke-width="1.4"/>
</g>
</svg></body></html>
